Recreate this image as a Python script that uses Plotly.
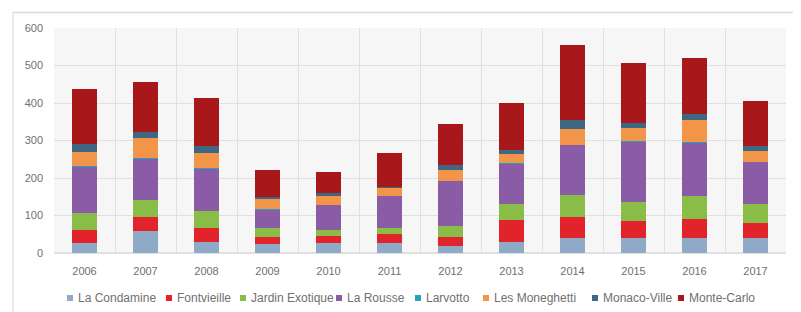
import plotly.graph_objects as go

years = ["2006", "2007", "2008", "2009", "2010", "2011", "2012", "2013", "2014", "2015", "2016", "2017"]

la_condamine    = [28, 59, 30, 24, 28, 28, 20, 30, 39, 39, 39, 39]
fontvieille     = [33, 38, 38, 18, 18, 23, 23, 58, 58, 47, 53, 42]
jardin_exotique = [46, 44, 43, 24, 15, 15, 28, 44, 58, 51, 60, 50]
la_rousse       = [123, 111, 114, 50, 67, 86, 121, 107, 133, 160, 142, 112]
larvotto        = [1, 1, 1, 1, 1, 1, 1, 1, 1, 1, 1, 1]
les_moneghetti  = [38, 54, 40, 29, 24, 22, 29, 23, 41, 36, 61, 27]
monaco_ville    = [21, 15, 19, 4, 7, 2, 13, 12, 26, 14, 14, 15]
monte_carlo     = [148, 135, 128, 71, 55, 91, 109, 124, 199, 158, 149, 119]

series_names = ["La Condamine", "Fontvieille", "Jardin Exotique", "La Rousse",
                "Larvotto", "Les Moneghetti", "Monaco-Ville", "Monte-Carlo"]
series_values = [la_condamine, fontvieille, jardin_exotique, la_rousse,
                 larvotto, les_moneghetti, monaco_ville, monte_carlo]
series_colors = ["#8eaac6", "#e3232c", "#8abd47", "#8a5ca6",
                 "#22a3c2", "#f39548", "#3d6783", "#a8181a"]

y_ticks = [0, 100, 200, 300, 400, 500, 600]

# layout constants (page pixels); the page body has an 8px margin
OFF = 8
PAGE_W, PAGE_H = 801, 312
W, H = PAGE_W - OFF, PAGE_H - OFF
plot_left, plot_right, plot_top, plot_bottom = 54, 786, 28, 253
L = plot_left - OFF
T = plot_top - OFF
R = W - (plot_right - OFF)
B = H - (plot_bottom - OFF)
pw = W - L - R
ph = H - T - B
legend_marker_px = [67, 166, 240, 336, 415, 483, 592, 678]
legend_y_px = 298
text_color = "#707070"

fig = go.Figure()
for name, vals, col in zip(series_names, series_values, series_colors):
    fig.add_trace(go.Bar(x=years, y=vals, name=name, showlegend=False,
                         marker=dict(color=col, line=dict(width=0))))

def px_x(px):
    return (px - OFF - L) / pw

def px_y(py):
    return (H - B - (py - OFF)) / ph

shapes = [
    dict(type="line", xref="paper", yref="paper",
         x0=px_x(13), x1=px_x(PAGE_W + 5), y0=px_y(12.5), y1=px_y(12.5),
         line=dict(color="#d9d9d9", width=1.5)),
    dict(type="line", xref="paper", yref="paper",
         x0=px_x(13), x1=px_x(13), y0=px_y(12.5), y1=px_y(PAGE_H + 5),
         line=dict(color="#e3e3e3", width=1.5)),
]
annotations = []
for name, col, mx in zip(series_names, series_colors, legend_marker_px):
    shapes.append(dict(type="rect", xref="paper", yref="paper",
                       x0=px_x(mx), x1=px_x(mx + 6),
                       y0=px_y(legend_y_px - 3), y1=px_y(legend_y_px + 3),
                       fillcolor=col, line=dict(width=0)))
    annotations.append(dict(text=name, xref="paper", yref="paper",
                            x=px_x(mx + 8.5), y=px_y(legend_y_px),
                            xanchor="left", yanchor="middle", showarrow=False,
                            font=dict(size=12, color=text_color)))

fig.update_layout(
    width=W, height=H,
    barmode="stack",
    bargap=0.6,
    margin=dict(l=L, r=R, t=T, b=B, pad=0),
    paper_bgcolor="white",
    plot_bgcolor="#f6f6f6",
    font=dict(family="Liberation Sans, Arial, sans-serif", size=11, color=text_color),
    showlegend=False,
    xaxis=dict(type="category", tickson="boundaries", showgrid=True, gridcolor="#e0e0e0",
               gridwidth=1, ticks="", showline=False, ticklabelstandoff=10,
               automargin=False, fixedrange=True),
    yaxis=dict(range=[0, 600], tickvals=y_ticks, showgrid=True, gridcolor="#e0e0e0",
               zeroline=True, zerolinecolor="#e0e0e0", ticks="", showline=False,
               ticklabelstandoff=10, automargin=False, fixedrange=True),
    shapes=shapes,
    annotations=annotations,
)

fig.write_html("out.html")
